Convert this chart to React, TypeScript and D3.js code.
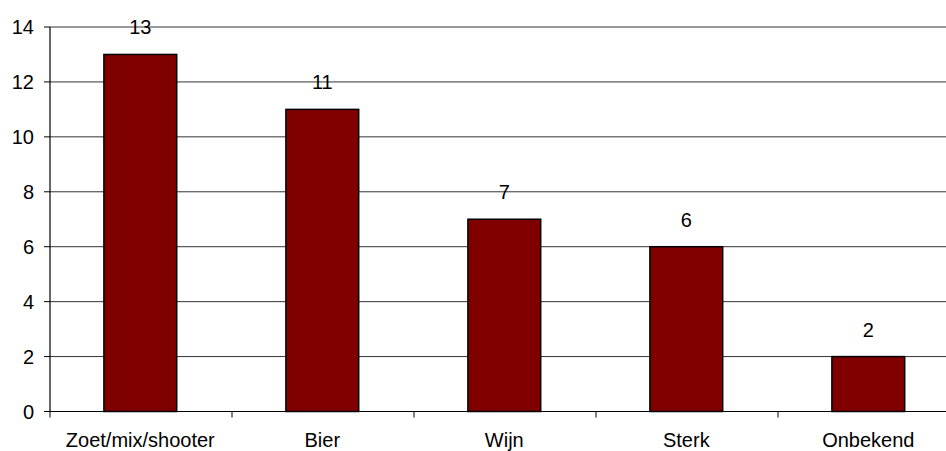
import React from "react";
import * as d3 from "d3";

const categories = ["Zoet/mix/shooter", "Bier", "Wijn", "Sterk", "Onbekend"];
const values = [13, 11, 7, 6, 2];
const yTicks = [0, 2, 4, 6, 8, 10, 12, 14];

const W = 946;
const H = 451;
const left = 50;
const top = 27;
const bottom = 411.5;
const step = 182;

export default function App() {
  const x = d3
    .scaleBand<string>()
    .domain(categories)
    .range([49.3, 49.3 + step * categories.length])
    .paddingInner(0.6)
    .paddingOuter(0.3);
  const y = d3.scaleLinear().domain([0, 14]).range([bottom, top]);
  const font = "'Liberation Sans', Arial, sans-serif";
  const boundaries = d3.range(categories.length + 1).map((i) => left + i * step);

  return (
    <svg
      width={W}
      height={H}
      style={{ position: "absolute", left: 0, top: 0, background: "#fff" }}
      fontFamily={font}
    >
      {yTicks.map((t) => (
        <g key={t}>
          {t > 0 && (
            <line x1={left} x2={W} y1={y(t)} y2={y(t)} stroke="#333" strokeWidth={1} />
          )}
          <line x1={left - 6} x2={left} y1={y(t)} y2={y(t)} stroke="#000" strokeWidth={1} />
          <text x={34} y={y(t)} dy="0.36em" textAnchor="end" fontSize={20} fill="#000">
            {t}
          </text>
        </g>
      ))}
      {categories.map((c, i) => (
        <g key={c}>
          <rect
            x={x(c)}
            y={y(values[i])}
            width={x.bandwidth()}
            height={bottom - y(values[i])}
            fill="#800000"
            stroke="#000"
            strokeWidth={1.5}
          />
          <text
            x={(x(c) as number) + x.bandwidth() / 2}
            y={y(values[i]) - 20}
            textAnchor="middle"
            fontSize={20}
            fill="#000"
          >
            {values[i]}
          </text>
          <text
            x={(x(c) as number) + x.bandwidth() / 2}
            y={446.5}
            textAnchor="middle"
            fontSize={20}
            fill="#000"
          >
            {c}
          </text>
        </g>
      ))}
      <line x1={left} x2={left} y1={top} y2={bottom} stroke="#000" strokeWidth={1.2} />
      <line x1={left} x2={W} y1={bottom} y2={bottom} stroke="#000" strokeWidth={1.2} />
      {boundaries.map((b, i) => (
        <line key={i} x1={b} x2={b} y1={bottom} y2={bottom + 6} stroke="#000" strokeWidth={1} />
      ))}
    </svg>
  );
}
